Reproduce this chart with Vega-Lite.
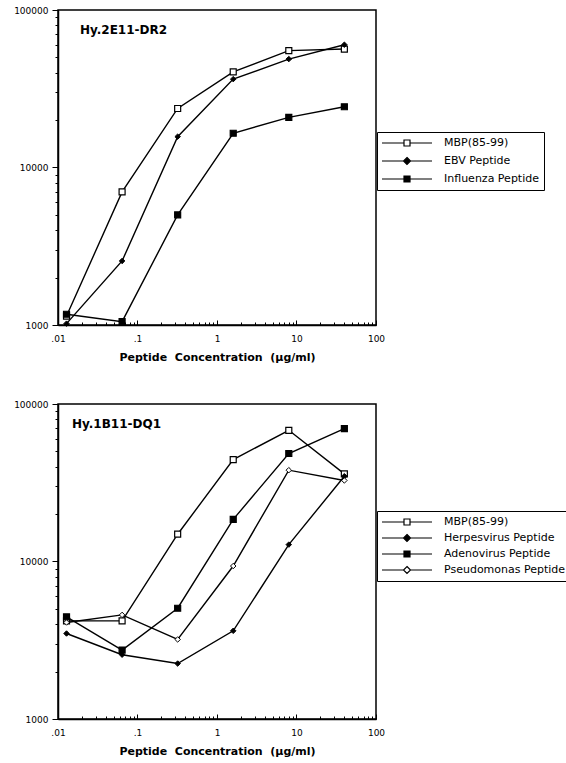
{
  "$schema": "https://vega.github.io/schema/vega-lite/v6.json",
  "background": "white",
  "padding": {"left": 5, "top": 5, "right": 0, "bottom": 0},
  "spacing": 36,
  "config": {
    "font": "DejaVu Sans",
    "view": {"stroke": "black", "strokeWidth": 1.5},
    "axis": {
      "grid": false,
      "domainColor": "black",
      "domainWidth": 1.5,
      "tickColor": "black",
      "tickWidth": 1,
      "labelColor": "black",
      "labelFont": "DejaVu Sans",
      "labelFontSize": 9,
      "labelOverlap": false,
      "labelBound": false,
      "labelFlush": false,
      "titleColor": "black",
      "titleFont": "DejaVu Sans",
      "titleFontSize": 11,
      "titleFontWeight": "bold"
    },
    "legend": {
      "title": null,
      "strokeColor": "black",
      "fillColor": "white",
      "padding": 5,
      "labelFont": "DejaVu Sans",
      "labelFontSize": 11,
      "labelColor": "black",
      "labelOffset": 50,
      "labelLimit": 300,
      "symbolSize": 100,
      "symbolOpacity": 1,
      "symbolStrokeColor": "black",
      "symbolStrokeWidth": 1.2
    }
  },
  "datasets": {
    "top": [
      {"series": "MBP(85-99)", "conc": 0.0128, "value": 1140},
      {"series": "MBP(85-99)", "conc": 0.064, "value": 7000},
      {"series": "MBP(85-99)", "conc": 0.32, "value": 23700},
      {"series": "MBP(85-99)", "conc": 1.6, "value": 40500},
      {"series": "MBP(85-99)", "conc": 8, "value": 55200},
      {"series": "MBP(85-99)", "conc": 40, "value": 56500},
      {"series": "EBV Peptide", "conc": 0.0128, "value": 1020},
      {"series": "EBV Peptide", "conc": 0.064, "value": 2550},
      {"series": "EBV Peptide", "conc": 0.32, "value": 15700},
      {"series": "EBV Peptide", "conc": 1.6, "value": 36400},
      {"series": "EBV Peptide", "conc": 8, "value": 48800},
      {"series": "EBV Peptide", "conc": 40, "value": 60200},
      {"series": "Influenza Peptide", "conc": 0.0128, "value": 1170},
      {"series": "Influenza Peptide", "conc": 0.064, "value": 1050},
      {"series": "Influenza Peptide", "conc": 0.32, "value": 5000},
      {"series": "Influenza Peptide", "conc": 1.6, "value": 16500},
      {"series": "Influenza Peptide", "conc": 8, "value": 20800},
      {"series": "Influenza Peptide", "conc": 40, "value": 24300}
    ],
    "bottom": [
      {"series": "MBP(85-99)", "conc": 0.0128, "value": 4200},
      {"series": "MBP(85-99)", "conc": 0.064, "value": 4200},
      {"series": "MBP(85-99)", "conc": 0.32, "value": 14900},
      {"series": "MBP(85-99)", "conc": 1.6, "value": 44400},
      {"series": "MBP(85-99)", "conc": 8, "value": 68100},
      {"series": "MBP(85-99)", "conc": 40, "value": 36000},
      {"series": "Herpesvirus Peptide", "conc": 0.0128, "value": 3490},
      {"series": "Herpesvirus Peptide", "conc": 0.064, "value": 2560},
      {"series": "Herpesvirus Peptide", "conc": 0.32, "value": 2250},
      {"series": "Herpesvirus Peptide", "conc": 1.6, "value": 3630},
      {"series": "Herpesvirus Peptide", "conc": 8, "value": 12800},
      {"series": "Herpesvirus Peptide", "conc": 40, "value": 34800},
      {"series": "Adenovirus Peptide", "conc": 0.0128, "value": 4450},
      {"series": "Adenovirus Peptide", "conc": 0.064, "value": 2740},
      {"series": "Adenovirus Peptide", "conc": 0.32, "value": 5050},
      {"series": "Adenovirus Peptide", "conc": 1.6, "value": 18500},
      {"series": "Adenovirus Peptide", "conc": 8, "value": 48500},
      {"series": "Adenovirus Peptide", "conc": 40, "value": 69800},
      {"series": "Pseudomonas Peptide", "conc": 0.0128, "value": 4100},
      {"series": "Pseudomonas Peptide", "conc": 0.064, "value": 4580},
      {"series": "Pseudomonas Peptide", "conc": 0.32, "value": 3200},
      {"series": "Pseudomonas Peptide", "conc": 1.6, "value": 9360},
      {"series": "Pseudomonas Peptide", "conc": 8, "value": 38000},
      {"series": "Pseudomonas Peptide", "conc": 40, "value": 32700}
    ]
  },
  "resolve": {"scale": {"shape": "independent", "fill": "independent", "stroke": "independent"}, "legend": {"shape": "independent", "fill": "independent", "stroke": "independent"}},
  "vconcat": [
    {
      "width": 318,
      "height": 315,
      "title": {"text": "Hy.2E11-DR2", "anchor": "start", "frame": "group", "offset": -31, "dx": 22, "fontSize": 12, "fontWeight": "bold", "font": "DejaVu Sans", "color": "black"},
      "data": {"name": "top"},
      "encoding": {
        "x": {"field": "conc", "type": "quantitative",
          "scale": {"type": "log", "domain": [0.01, 100], "nice": false},
          "axis": {"title": "Peptide\u00a0\u00a0Concentration\u00a0\u00a0(\u00b5g/ml)",
            "values": [0.01,0.02,0.03,0.04,0.05,0.06,0.07,0.08,0.09,0.1,0.2,0.3,0.4,0.5,0.6,0.7,0.8,0.9,1,2,3,4,5,6,7,8,9,10,20,30,40,50,60,70,80,90,100],
            "labelExpr": "abs(log(datum.value)/LN10 - round(log(datum.value)/LN10)) < 0.001 ? (datum.value < 0.05 ? '.01' : datum.value < 0.5 ? '.1' : format(datum.value, 'd')) : ''",
            "tickSize": {"condition": {"test": "abs(log(datum.value)/LN10 - round(log(datum.value)/LN10)) < 0.001", "value": -5}, "value": -3},
            "labelPadding": 14, "titlePadding": 6}},
        "y": {"field": "value", "type": "quantitative",
          "scale": {"type": "log", "domain": [1000, 100000], "nice": false},
          "axis": {"title": null,
            "values": [1000,2000,3000,4000,5000,6000,7000,8000,9000,10000,20000,30000,40000,50000,60000,70000,80000,90000,100000],
            "labelExpr": "abs(log(datum.value)/LN10 - round(log(datum.value)/LN10)) < 0.001 ? format(datum.value, 'd') : ''",
            "tickSize": {"condition": {"test": "abs(log(datum.value)/LN10 - round(log(datum.value)/LN10)) < 0.001", "value": 6}, "value": 3},
            "labelPadding": 4, "minExtent": 52, "maxExtent": 52}}
      },
      "layer": [
        {"mark": {"type": "line", "color": "black", "strokeWidth": 1.4}, "encoding": {"detail": {"field": "series"}}},
        {"transform": [{"filter": "datum.series !== 'EBV Peptide'"}],
          "mark": {"type": "point", "shape": "square", "filled": true, "opacity": 1, "stroke": "black", "strokeWidth": 1.2, "size": 36},
          "encoding": {"fill": {"condition": {"test": "datum.series === 'MBP(85-99)'", "value": "white"}, "value": "black"}}},
        {"transform": [{"filter": "datum.series === 'EBV Peptide'"}],
          "mark": {"type": "point", "shape": "diamond", "filled": true, "opacity": 1, "stroke": "black", "strokeWidth": 1, "size": 30, "fill": "black"}},
        {"mark": {"type": "point", "filled": true, "opacity": 0, "strokeWidth": 1.2},
          "encoding": {
            "shape": {"field": "series", "scale": {"domain": ["MBP(85-99)", "EBV Peptide", "Influenza Peptide"],
              "range": ["M-1.2,0H3.2M4.4,0H8.8M3.2,-0.6H4.4V0.6H3.2Z", "M-1.2,0H3.1M4.5,0H8.8M3.8,-0.7L4.5,0L3.8,0.7L3.1,0Z", "M-1.2,0H3.2M4.4,0H8.8M3.2,-0.6H4.4V0.6H3.2Z"]},
              "legend": {"orient": "none", "legendX": 319, "legendY": 122, "rowPadding": 6}},
            "fill": {"field": "series", "scale": {"domain": ["MBP(85-99)", "EBV Peptide", "Influenza Peptide"], "range": ["white", "black", "black"]}},
            "stroke": {"field": "series", "scale": {"domain": ["MBP(85-99)", "EBV Peptide", "Influenza Peptide"], "range": ["black", "black", "black"]}}
          }}
      ]
    },
    {
      "width": 318,
      "height": 315,
      "title": {"text": "Hy.1B11-DQ1", "anchor": "start", "frame": "group", "offset": -31, "dx": 14, "fontSize": 12, "fontWeight": "bold", "font": "DejaVu Sans", "color": "black"},
      "data": {"name": "bottom"},
      "encoding": {
        "x": {"field": "conc", "type": "quantitative",
          "scale": {"type": "log", "domain": [0.01, 100], "nice": false},
          "axis": {"title": "Peptide\u00a0\u00a0Concentration\u00a0\u00a0(\u00b5g/ml)",
            "values": [0.01,0.02,0.03,0.04,0.05,0.06,0.07,0.08,0.09,0.1,0.2,0.3,0.4,0.5,0.6,0.7,0.8,0.9,1,2,3,4,5,6,7,8,9,10,20,30,40,50,60,70,80,90,100],
            "labelExpr": "abs(log(datum.value)/LN10 - round(log(datum.value)/LN10)) < 0.001 ? (datum.value < 0.05 ? '.01' : datum.value < 0.5 ? '.1' : format(datum.value, 'd')) : ''",
            "tickSize": {"condition": {"test": "abs(log(datum.value)/LN10 - round(log(datum.value)/LN10)) < 0.001", "value": -5}, "value": -3},
            "labelPadding": 14, "titlePadding": 6}},
        "y": {"field": "value", "type": "quantitative",
          "scale": {"type": "log", "domain": [1000, 100000], "nice": false},
          "axis": {"title": null,
            "values": [1000,2000,3000,4000,5000,6000,7000,8000,9000,10000,20000,30000,40000,50000,60000,70000,80000,90000,100000],
            "labelExpr": "abs(log(datum.value)/LN10 - round(log(datum.value)/LN10)) < 0.001 ? format(datum.value, 'd') : ''",
            "tickSize": {"condition": {"test": "abs(log(datum.value)/LN10 - round(log(datum.value)/LN10)) < 0.001", "value": 6}, "value": 3},
            "labelPadding": 4, "minExtent": 52, "maxExtent": 52}}
      },
      "layer": [
        {"mark": {"type": "line", "color": "black", "strokeWidth": 1.4}, "encoding": {"detail": {"field": "series"}}},
        {"transform": [{"filter": "datum.series === 'MBP(85-99)' || datum.series === 'Adenovirus Peptide'"}],
          "mark": {"type": "point", "shape": "square", "filled": true, "opacity": 1, "stroke": "black", "strokeWidth": 1.2, "size": 36},
          "encoding": {"fill": {"condition": {"test": "datum.series === 'MBP(85-99)'", "value": "white"}, "value": "black"}}},
        {"transform": [{"filter": "datum.series === 'Herpesvirus Peptide' || datum.series === 'Pseudomonas Peptide'"}],
          "mark": {"type": "point", "shape": "diamond", "filled": true, "opacity": 1, "stroke": "black", "strokeWidth": 1, "size": 30},
          "encoding": {"fill": {"condition": {"test": "datum.series === 'Pseudomonas Peptide'", "value": "white"}, "value": "black"}}},
        {"mark": {"type": "point", "filled": true, "opacity": 0, "strokeWidth": 1.2},
          "encoding": {
            "shape": {"field": "series", "scale": {"domain": ["MBP(85-99)", "Herpesvirus Peptide", "Adenovirus Peptide", "Pseudomonas Peptide"],
              "range": ["M-1.2,0H3.2M4.4,0H8.8M3.2,-0.6H4.4V0.6H3.2Z", "M-1.2,0H3.1M4.5,0H8.8M3.8,-0.7L4.5,0L3.8,0.7L3.1,0Z", "M-1.2,0H3.2M4.4,0H8.8M3.2,-0.6H4.4V0.6H3.2Z", "M-1.2,0H3.1M4.5,0H8.8M3.8,-0.7L4.5,0L3.8,0.7L3.1,0Z"]},
              "legend": {"orient": "none", "legendX": 319, "legendY": 107, "rowPadding": 4}},
            "fill": {"field": "series", "scale": {"domain": ["MBP(85-99)", "Herpesvirus Peptide", "Adenovirus Peptide", "Pseudomonas Peptide"], "range": ["white", "black", "black", "white"]}},
            "stroke": {"field": "series", "scale": {"domain": ["MBP(85-99)", "Herpesvirus Peptide", "Adenovirus Peptide", "Pseudomonas Peptide"], "range": ["black", "black", "black", "black"]}}
          }}
      ]
    }
  ]
}
